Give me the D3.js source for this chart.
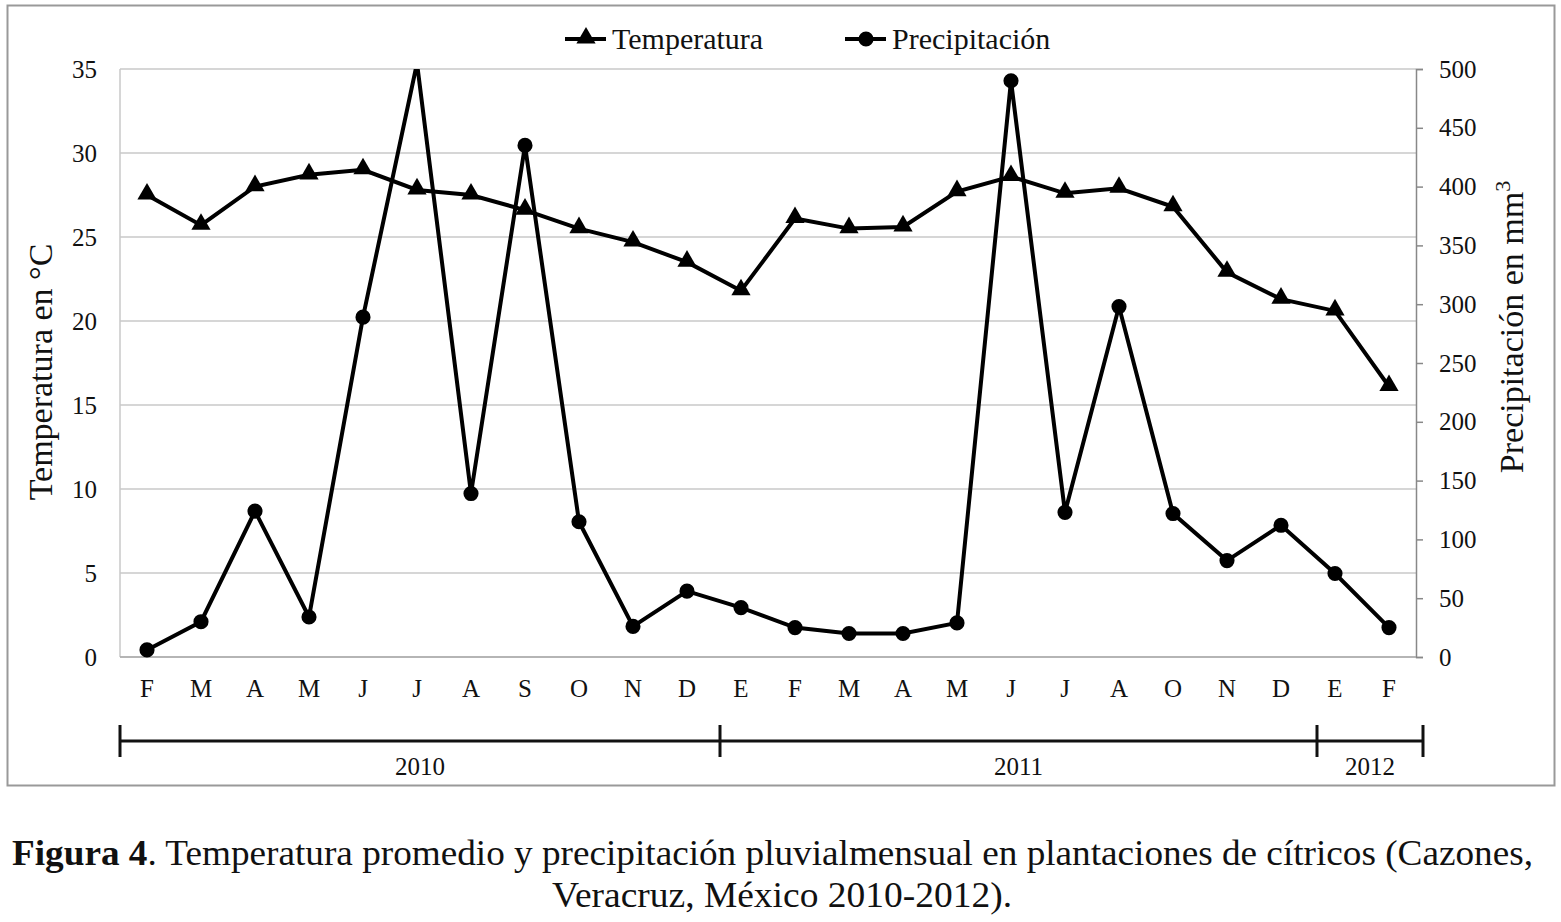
<!DOCTYPE html>
<html><head><meta charset="utf-8">
<script src="https://cdn.jsdelivr.net/npm/d3@7"></script>
<style>body{margin:0;background:#fff}svg{display:block}</style>
</head><body>
<svg id="c" width="1561" height="922"></svg>
<script>
const months = ["F","M","A","M","J","J","A","S","O","N","D","E","F","M","A","M","J","J","A","O","N","D","E","F"];
const temperatura = [27.5,25.7,28.0,28.7,29.0,27.8,27.5,26.6,25.5,24.7,23.5,21.8,26.1,25.5,25.6,27.7,28.6,27.6,27.9,26.8,22.9,21.3,20.6,16.1];
const precipitacion = [6,30,124,34,289,505,139,435,115,26,56,42,25,20,20,29,490,123,298,122,82,112,71,25];
const tempTicks = [0,5,10,15,20,25,30,35];
const precTicks = [0,50,100,150,200,250,300,350,400,450,500];
const years = [{label:"2010",from:0,to:11},{label:"2011",from:11,to:22},{label:"2012",from:22,to:24}];

const FONT = '"Liberation Serif", "Times New Roman", serif';
const svg = d3.select("#c");
const L=120,R=1416,T=69,B=657;
const idx = months.map((m,i)=>i);
const x = d3.scaleBand().domain(idx).range([L,R]).padding(0);
const cx = i => x(i)+x.bandwidth()/2;
const yT = d3.scaleLinear().domain([0,35]).range([B,T]);
const yP = d3.scaleLinear().domain([0,500]).range([B,T]);

// outer frame
svg.append("rect").attr("x",7.5).attr("y",5.5).attr("width",1547).attr("height",780)
  .attr("fill","none").attr("stroke","#999").attr("stroke-width",2);

// grid
svg.append("g").selectAll("line").data(tempTicks).join("line")
  .attr("x1",L).attr("x2",R).attr("y1",d=>yT(d)).attr("y2",d=>yT(d))
  .attr("stroke","#c8c8c8").attr("stroke-width",1.5);
svg.append("line").attr("x1",L).attr("x2",L).attr("y1",T).attr("y2",B).attr("stroke","#c8c8c8").attr("stroke-width",1.5);

// left axis
const gl = svg.append("g").attr("transform",`translate(${L},0)`)
  .call(d3.axisLeft(yT).tickValues(tempTicks).tickSize(0).tickPadding(23));
gl.select(".domain").remove();
gl.selectAll("text").style("font-size","25px");

// right axis
const gr = svg.append("g").attr("transform",`translate(${R},0)`)
  .call(d3.axisRight(yP).tickValues(precTicks).tickSize(7).tickPadding(16));
gr.select(".domain").attr("stroke","#888").attr("stroke-width",1.5);
gr.selectAll(".tick line").attr("stroke","#888").attr("stroke-width",1.5);
gr.selectAll("text").style("font-size","25px");

// bottom axis
svg.append("line").attr("x1",L).attr("x2",R).attr("y1",B).attr("y2",B).attr("stroke","#aaa").attr("stroke-width",1.5);
svg.append("g").selectAll("text").data(idx).join("text")
  .attr("x",d=>cx(d)).attr("y",697).attr("text-anchor","middle").style("font-size","25px")
  .text(d=>months[d]);

// year brackets
const bx = i => i>=months.length ? R+7 : (i===0 ? L : x(i)+6 + (i>15?3:0));
const gy = svg.append("g");
gy.append("line").attr("x1",bx(0)).attr("x2",bx(24)).attr("y1",741).attr("y2",741).attr("stroke","#111").attr("stroke-width",3);
const bounds = [0,11,22,24];
gy.selectAll("line.t").data(bounds).join("line").attr("class","t")
  .attr("x1",d=>bx(d)).attr("x2",d=>bx(d)).attr("y1",725).attr("y2",757).attr("stroke","#111").attr("stroke-width",3);
gy.selectAll("text").data(years).join("text")
  .attr("x",d=>(bx(d.from)+bx(d.to))/2).attr("y",775).attr("text-anchor","middle").style("font-size","25px")
  .text(d=>d.label);

// clip
svg.append("clipPath").attr("id","pc").append("rect").attr("x",L-20).attr("y",T).attr("width",R-L+40).attr("height",B-T+20);

const plot = svg.append("g").attr("clip-path","url(#pc)");
const lineT = d3.line().x((d,i)=>cx(i)).y(d=>yT(d));
const lineP = d3.line().x((d,i)=>cx(i)).y(d=>yP(d));
plot.append("path").datum(precipitacion).attr("d",lineP).attr("fill","none").attr("stroke","#000").attr("stroke-width",4);
plot.append("path").datum(temperatura).attr("d",lineT).attr("fill","none").attr("stroke","#000").attr("stroke-width",4);

const tri = d3.symbol().type(d3.symbolTriangle).size(160);
const circ = d3.symbol().type(d3.symbolCircle).size(180);
const pData = precipitacion.map((v,i)=>({v,i})).filter(d=>d.v<=500);
plot.selectAll("path.pm").data(pData).join("path").attr("class","pm")
  .attr("d",circ).attr("transform",d=>`translate(${cx(d.i)},${yP(d.v)})`).attr("fill","#000");
plot.selectAll("path.tm").data(temperatura).join("path").attr("class","tm")
  .attr("d",tri).attr("transform",(d,i)=>`translate(${cx(i)},${yT(d)-1})`).attr("fill","#000");

// axis titles
svg.append("text").attr("transform","translate(52,372) rotate(-90)").attr("text-anchor","middle").style("font-size","34px").text("Temperatura en °C");
const rt = svg.append("text").attr("transform","translate(1523,327) rotate(-90)").attr("text-anchor","middle").style("font-size","34px");
rt.append("tspan").text("Precipitación en mm");
rt.append("tspan").attr("dy",-13).style("font-size","22px").text("3");

// legend
const lg = svg.append("g");
lg.append("line").attr("x1",565).attr("x2",606).attr("y1",39).attr("y2",39).attr("stroke","#000").attr("stroke-width",4);
lg.append("path").attr("d",tri).attr("transform","translate(586,38)");
lg.append("text").attr("x",612).attr("y",49).style("font-size","30px").text("Temperatura");
lg.append("line").attr("x1",845).attr("x2",886).attr("y1",39).attr("y2",39).attr("stroke","#000").attr("stroke-width",4);
lg.append("path").attr("d",circ).attr("transform","translate(866,39)");
lg.append("text").attr("x",892).attr("y",49).style("font-size","30px").text("Precipitación");

// caption
const c1 = svg.append("text").attr("x",12).attr("y",865).attr("textLength",1521).attr("lengthAdjust","spacingAndGlyphs").style("font-size","36px");
c1.append("tspan").attr("font-weight","bold").text("Figura 4");
c1.append("tspan").text(". Temperatura promedio y precipitación pluvialmensual en plantaciones de cítricos (Cazones,");
svg.append("text").attr("x",782).attr("y",907).attr("text-anchor","middle").attr("textLength",460).attr("lengthAdjust","spacingAndGlyphs").style("font-size","36px").text("Veracruz, México 2010-2012).");

svg.selectAll("text").style("font-family",FONT).attr("fill","#111");
</script>
</body></html>
